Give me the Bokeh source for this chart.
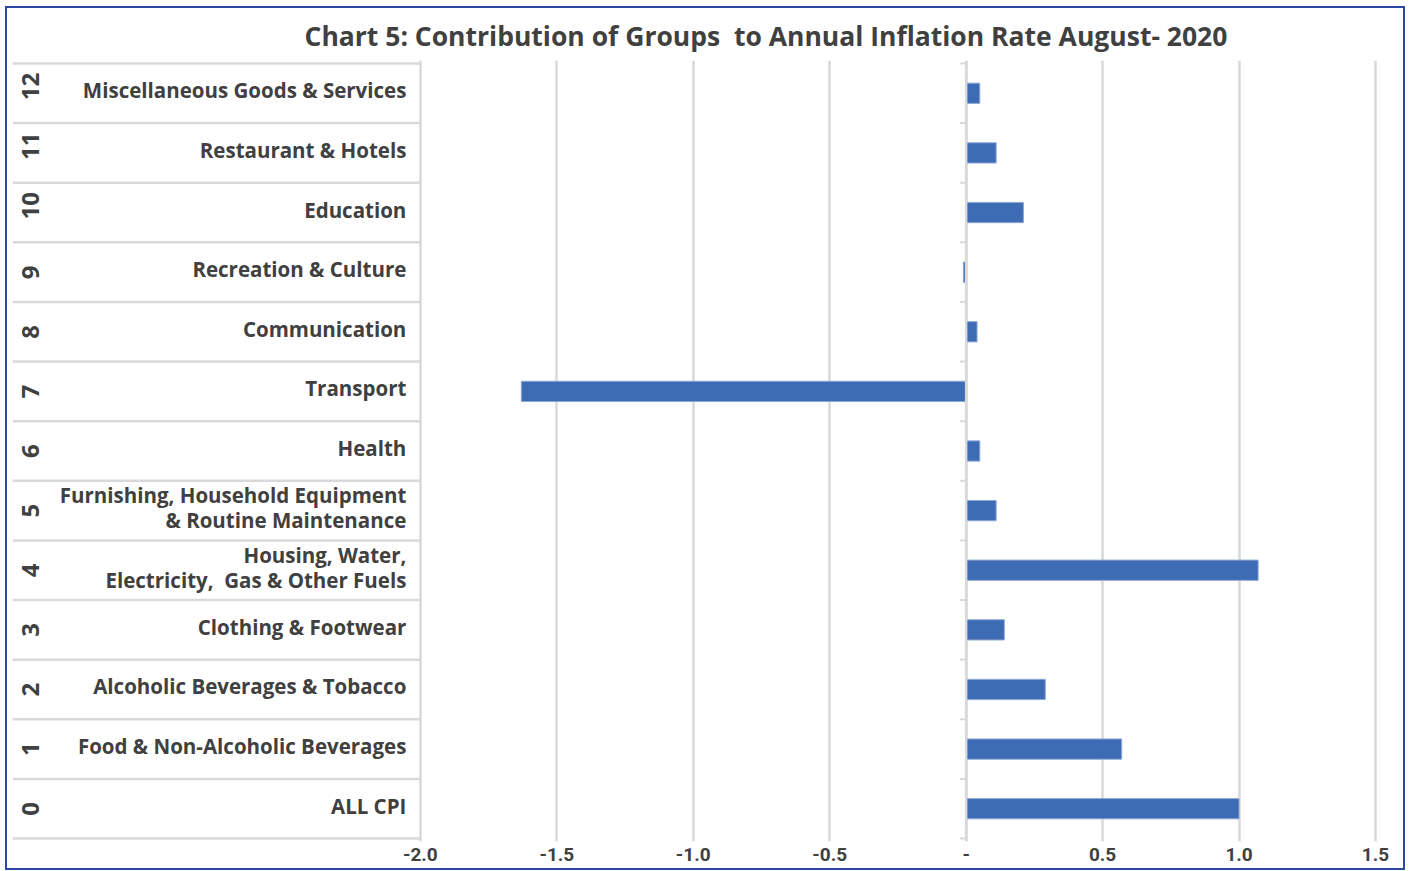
import numpy as np
from bokeh.plotting import figure
from bokeh.models import Range1d, FixedTicker, ColumnDataSource, Span, Title
from bokeh.core.properties import value
from bokeh.embed import file_html
from bokeh.resources import INLINE

# ---------------- data ----------------
group_numbers = ["0", "1", "2", "3", "4", "5", "6", "7", "8", "9", "10", "11", "12"]
categories = [
    "ALL CPI",
    "Food & Non-Alcoholic Beverages",
    "Alcoholic Beverages & Tobacco",
    "Clothing & Footwear",
    "Housing, Water,\nElectricity,\u00a0 Gas & Other Fuels",
    "Furnishing, Household Equipment\n& Routine Maintenance",
    "Health",
    "Transport",
    "Communication",
    "Recreation & Culture",
    "Education",
    "Restaurant & Hotels",
    "Miscellaneous Goods & Services",
]
contributions = [1.00, 0.57, 0.29, 0.14, 1.07, 0.11, 0.05, -1.63, 0.04, -0.01, 0.21, 0.11, 0.05]
x_ticks = [-2.0, -1.5, -1.0, -0.5, 0.0, 0.5, 1.0, 1.5]
x_tick_labels = ["-2.0", "-1.5", "-1.0", "-0.5", "-", "0.5", "1.0", "1.5"]
title_text = "Chart 5: Contribution of Groups\u00a0 to Annual Inflation Rate August- 2020"

# ---------------- styling ----------------
TEXT = "#404040"
GRID = "#d9d9d9"
BAR = "#3E6CB4"
FONT = "Open Sans"
X_START, X_END = -3.4945, 1.555
Y_START, Y_END = -0.55, len(categories) - 0.45

positions = list(range(len(categories)))
src = ColumnDataSource(dict(y=positions, v=contributions, name=categories, num=group_numbers))
boundaries = [i - 0.5 for i in range(len(categories) + 1)]

p = figure(
    width=1396, height=860,
    frame_width=1378, frame_height=781,
    x_range=Range1d(X_START, X_END), y_range=Range1d(Y_START, Y_END),
    y_axis_location=None,
    output_backend="svg", toolbar_location=None,
    min_border_left=5, min_border_right=13, min_border_top=52, min_border_bottom=27,
    background_fill_color="white", border_fill_color="white",
)
p.outline_line_color = None
p.styles = {"border": "2px solid #2D48A0", "margin": "6px 0px 0px 5px"}

t = Title(text=title_text, align="left", offset=292, vertical_align="bottom", standoff=13,
          text_font=FONT, text_font_size="26.5px", text_font_style="bold", text_color=TEXT)
p.add_layout(t, "above")

# x axis
p.xaxis.ticker = FixedTicker(ticks=x_ticks)
p.xaxis.major_label_overrides = {t_: l_ for t_, l_ in zip(x_ticks, x_tick_labels)}
p.xaxis.axis_line_color = None
p.xaxis.major_tick_line_color = None
p.xaxis.minor_tick_line_color = None
p.xaxis.major_label_standoff = 0
p.xaxis.major_label_text_font = "Roboto"
p.xaxis.major_label_text_font_size = "19px"
p.xaxis.major_label_text_font_style = "bold"
p.xaxis.major_label_text_color = TEXT

p.xgrid.ticker = FixedTicker(ticks=x_ticks)
p.xgrid.grid_line_color = GRID
p.xgrid.grid_line_width = 2.5
p.ygrid.visible = False

# table separators on the category side
p.segment(x0=X_START, x1=-2.0, y0=boundaries, y1=boundaries, line_color=GRID, line_width=2.5)

# bars
p.hbar(y="y", left=0, right="v", height=0.34, source=src,
       fill_color=BAR, line_color="#8EA8D8", line_width=1)

# zero axis line and ticks
p.add_layout(Span(location=0, dimension="height", line_color=GRID, line_width=2.5))
p.ray(x=0, y=boundaries, length=6, length_units="screen", angle=np.pi, line_color=GRID, line_width=2)

# category names
p.text(x=-2.0, y="y", text="name", source=src, x_offset=-14, y_offset=-3,
       text_align="right", text_baseline="middle", text_font=value(FONT),
       text_font_size="20.5px", text_font_style="bold", text_color=TEXT, text_line_height=0.88)

# group numbers (rotated)
p.text(x=X_START, y="y", text="num", source=src, x_offset=18, y_offset=7, angle=np.pi / 2,
       text_align="left", text_baseline="middle", text_font=value(FONT),
       text_font_size="24px", text_font_style="bold", text_color=TEXT)

open("out.html", "w").write(file_html(p, INLINE))
